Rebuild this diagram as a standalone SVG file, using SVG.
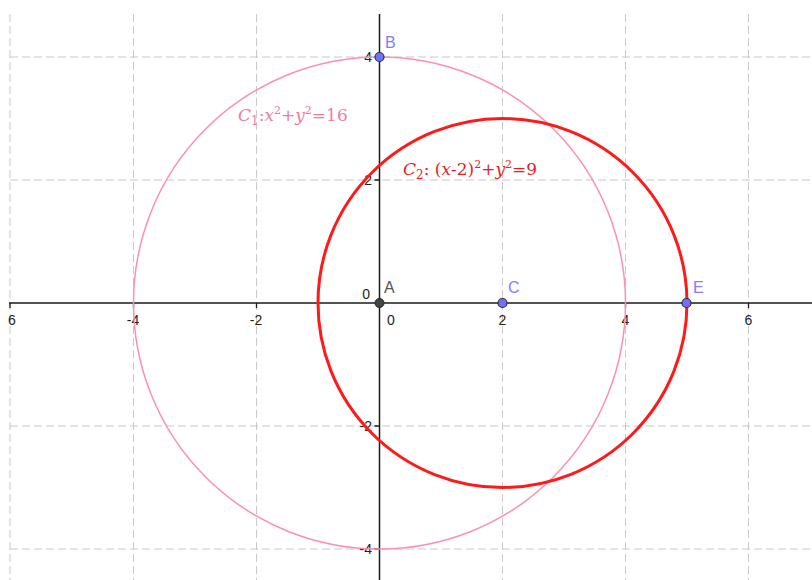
<svg xmlns="http://www.w3.org/2000/svg" width="812" height="580" viewBox="0 0 812 580">
<style>
.grid{stroke:#c8c8c8;stroke-width:1;stroke-dasharray:8 4;fill:none}
.axis{stroke:#1a1a1a;stroke-width:1.5}
.tick{stroke:#1a1a1a;stroke-width:1.3}
.tl{font-family:"Liberation Sans",Arial,sans-serif;font-size:14px;fill:#222}
.pl{font-family:"Liberation Sans",Arial,sans-serif;font-size:16px;fill:#7f7fff}
.pt{fill:#7070ff;stroke:#333;stroke-width:1.2}
.eq{font-family:"DejaVu Serif","Liberation Serif",serif;font-size:17px}
.it{font-style:italic}
</style>
<rect width="812" height="580" fill="#fff"/>
<g id="grid">
<path class="grid" d="M10 14V580M133.5 14V580M256.5 14V580M502.5 14V580M625.5 14V580M748.5 14V580"/>
<path class="grid" d="M10 57H812M10 180H812M10 426H812M10 549H812"/>
</g>
<g id="axes">
<line class="axis" x1="9" y1="303" x2="812" y2="303"/>
<line class="axis" x1="379.5" y1="14" x2="379.5" y2="580"/>
<path class="tick" d="M10 303v5M133.5 303v5M256.5 303v5M502.5 303v5M625.5 303v5M748.5 303v5M374.5 57h5M374.5 180h5M374.5 426h5M374.5 549h5"/>
<text class="tl" x="8" y="325">6</text>
<text class="tl" x="133" y="325" text-anchor="middle">-4</text>
<text class="tl" x="256" y="325" text-anchor="middle">-2</text>
<text class="tl" x="391" y="325" text-anchor="middle">0</text>
<text class="tl" x="502.5" y="325" text-anchor="middle">2</text>
<text class="tl" x="625.5" y="325" text-anchor="middle">4</text>
<text class="tl" x="748.5" y="325" text-anchor="middle">6</text>
<text class="tl" x="372" y="62" text-anchor="end">4</text>
<text class="tl" x="372" y="185" text-anchor="end">2</text>
<text class="tl" x="370" y="299" text-anchor="end">0</text>
<text class="tl" x="372" y="431" text-anchor="end">-2</text>
<text class="tl" x="372" y="554" text-anchor="end">-4</text>
</g>
<g id="C1">
<circle cx="379.5" cy="303" r="246" fill="none" stroke="#ff8fb2" stroke-width="1.5"/>
<text class="eq" x="238" y="121" fill="#f07aa2"><tspan class="it">C</tspan><tspan font-size="12" dy="4">1</tspan><tspan dy="-4">:</tspan><tspan class="it">x</tspan><tspan font-size="11" dy="-7">2</tspan><tspan dy="7">+</tspan><tspan class="it">y</tspan><tspan font-size="11" dy="-7">2</tspan><tspan dy="7">=16</tspan></text>
</g>
<g id="C2">
<circle cx="502.5" cy="303" r="184.5" fill="none" stroke="#ff1a1a" stroke-width="3"/>
<text class="eq" x="403" y="175" fill="#ee1c1c"><tspan class="it">C</tspan><tspan font-size="12" dy="4">2</tspan><tspan dy="-4">: (</tspan><tspan class="it">x</tspan><tspan>-2)</tspan><tspan font-size="11" dy="-7">2</tspan><tspan dy="7">+</tspan><tspan class="it">y</tspan><tspan font-size="11" dy="-7">2</tspan><tspan dy="7">=9</tspan></text>
</g>
<g id="A">
<circle cx="379.5" cy="303" r="4.5" fill="#444" stroke="#222" stroke-width="1"/>
<text class="pl" x="384" y="293" style="fill:#555">A</text>
</g>
<g id="B">
<circle class="pt" cx="379.5" cy="57" r="4.5"/>
<text class="pl" x="385" y="48">B</text>
</g>
<g id="C">
<circle class="pt" cx="502.5" cy="303" r="4.5"/>
<text class="pl" x="508" y="293">C</text>
</g>
<g id="E">
<circle class="pt" cx="686.5" cy="303" r="4.5"/>
<text class="pl" x="693" y="293">E</text>
</g>
</svg>
